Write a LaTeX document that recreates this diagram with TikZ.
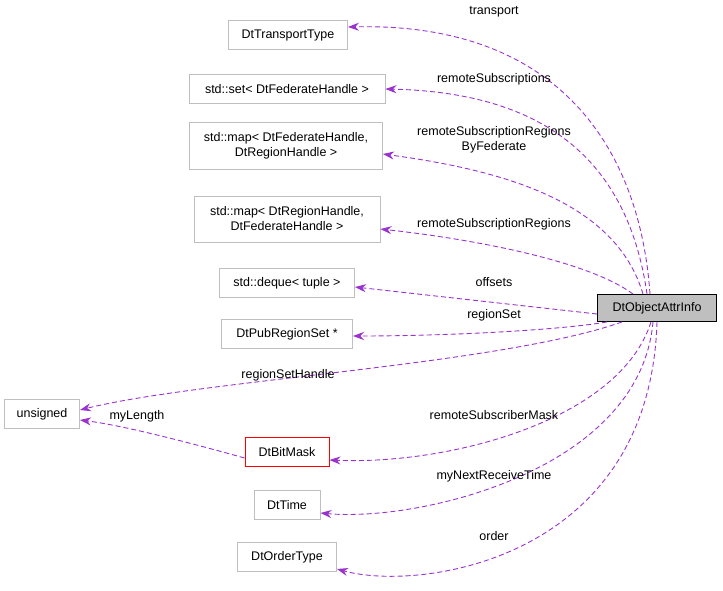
\documentclass[tikz,border=0pt]{standalone}
\usepackage{fontspec}
\setmainfont{Liberation Sans}
\usetikzlibrary{arrows.meta}
\definecolor{edgepurple}{RGB}{154,50,205}
\definecolor{boxgray}{RGB}{191,191,191}
\tikzset{
  cls/.style={draw=boxgray, fill=white, line width=0.9pt, inner sep=3pt, minimum height=29pt, align=center, font=\fontsize{12.5}{15}\selectfont},
  usage/.style={draw=edgepurple, line width=0.9pt, dash pattern=on 5pt off 3pt, -{Stealth[length=11pt,width=8pt,fill=edgepurple]}},
  lbl/.style={font=\fontsize{12.5}{15}\selectfont, align=center}
}
\begin{document}
\begin{tikzpicture}[x=1pt,y=-1pt]
  \useasboundingbox (0,0) rectangle (723,591);
  \node[cls, minimum width=119pt] (transporttype) at (288,35) {DtTransportType};
  \node[cls, minimum width=196pt] (fedset) at (287,89) {std::set< DtFederateHandle >};
  \node[cls, minimum width=193pt, minimum height=47pt] (fedmap) at (286,146) {std::map< DtFederateHandle,\\DtRegionHandle >};
  \node[cls, minimum width=186pt, minimum height=46pt] (regmap) at (287,219) {std::map< DtRegionHandle,\\DtFederateHandle >};
  \node[cls, minimum width=135pt] (tupledeque) at (287,283) {std::deque< tuple >};
  \node[cls, minimum width=131pt] (pubregionset) at (287,334) {DtPubRegionSet *};
  \node[cls, minimum width=75pt] (unsignedtype) at (42,414) {unsigned};
  \node[cls, draw=red, minimum width=84pt] (bitmask) at (287,452) {DtBitMask};
  \node[cls, minimum width=66pt] (dttime) at (287,505) {DtTime};
  \node[cls, minimum width=99pt] (ordertype) at (287,557) {DtOrderType};
  \node[cls, draw=black, fill=boxgray, minimum width=119pt, minimum height=27pt] (info) at (657,308) {DtObjectAttrInfo};
  % member edges
  \draw[usage] ([xshift=-7pt]info.north) .. controls (640,150) and (560,22) .. ([yshift=8pt]transporttype.east);
  \draw[usage] ([xshift=-10pt]info.north) .. controls (625,140) and (520,92) .. (fedset.east);
  \draw[usage] ([xshift=-14pt]info.north) .. controls (615,200) and (500,170) .. ([yshift=-8pt]fedmap.east);
  \draw[usage] ([xshift=-24pt]info.north) .. controls (590,262) and (480,240) .. ([yshift=-10pt]regmap.east);
  \draw[usage] ([yshift=-6pt]info.west) -- ([yshift=-4pt]tupledeque.east);
  \draw[usage] ([xshift=-50pt]info.south) .. controls (560,330) and (450,336) .. ([yshift=-2pt]pubregionset.east);
  \draw[usage] ([xshift=-35pt]info.south) .. controls (500,365) and (200,380) .. ([yshift=4pt]unsignedtype.east);
  \draw[usage] ([xshift=-6pt]info.south) .. controls (620,420) and (450,465) .. ([yshift=-8pt]bitmask.east);
  \draw[usage] ([xshift=-4pt]info.south) .. controls (640,470) and (420,522) .. ([yshift=-8pt]dttime.east);
  \draw[usage] (info.south) .. controls (650,560) and (420,592) .. ([yshift=-12pt]ordertype.east);
  \draw[usage] ([yshift=-6pt]bitmask.west) .. controls (180,440) and (120,425) .. ([yshift=-6pt]unsignedtype.east);
  % labels
  \node[lbl] (ltransport) at (494,12) {transport};
  \node[lbl] (lremsubs) at (494,79) {remoteSubscriptions};
  \node[lbl] (lbyfed) at (494,140) {remoteSubscriptionRegions\\ByFederate};
  \node[lbl] (lremregs) at (494,224) {remoteSubscriptionRegions};
  \node[lbl] (loffsets) at (494,282) {offsets};
  \node[lbl] (lregionset) at (494,315) {regionSet};
  \node[lbl] (lhandle) at (288,375) {regionSetHandle};
  \node[lbl] (llength) at (137,416) {myLength};
  \node[lbl] (lmask) at (494,415) {remoteSubscriberMask};
  \node[lbl] (lrecv) at (494,476) {myNextReceiveTime};
  \node[lbl] (lorder) at (494,536) {order};
\end{tikzpicture}
\end{document}
